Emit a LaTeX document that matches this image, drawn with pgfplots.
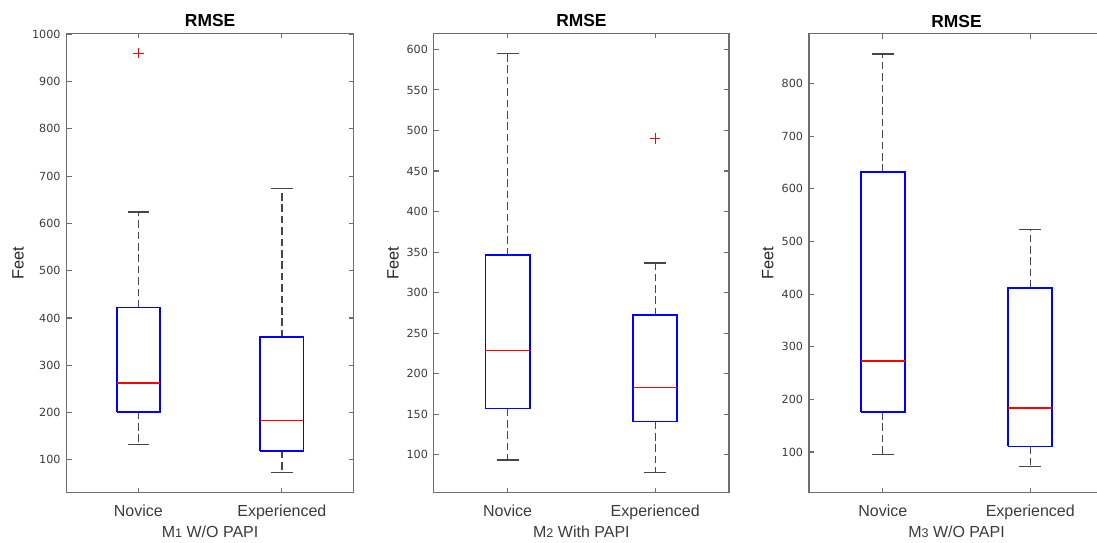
\documentclass[border=0pt]{standalone}
\usepackage{fontspec}
\setmainfont{Liberation Sans}
\newfontfamily\tickfont{DejaVu Sans}
\usepackage{pgfplots}
\pgfplotsset{compat=1.18}
\definecolor{framegray}{RGB}{110,110,110}
\definecolor{textgray}{RGB}{60,60,60}
\definecolor{whiskgray}{RGB}{70,70,70}
\definecolor{boxblue}{RGB}{0,0,255}
\definecolor{medred}{RGB}{255,0,0}
\pgfplotsset{
  rmse/.style={
    scale only axis, height=229.5pt, anchor=south west,
    xmin=0.5, xmax=2.5, xtick={1,2}, xticklabels={Novice,Experienced},
    axis line style={framegray, line width=0.6pt},
    tick style={framegray, line width=0.55pt},
    major tick length=2.5pt, tick align=inside,
    /pgf/number format/assume math mode=true,
    /pgf/number format/1000 sep={},
    yticklabel style={font=\tickfont\fontsize{5.6}{6.5}\selectfont, text=textgray, anchor=east, inner sep=0pt, xshift=-2.75pt},
    xticklabel style={font=\fontsize{8}{9}\selectfont, text=textgray, anchor=base, inner sep=0pt, yshift=-12.1pt},
    title style={font=\bfseries\fontsize{8.7}{10}\selectfont, at={(axis description cs:0.5,1)}, anchor=base, yshift=-2.75pt, inner sep=0pt},
    xlabel style={font=\fontsize{8}{9}\selectfont, text=textgray, at={(axis description cs:0.5,-0.0991)}, anchor=base, inner sep=0pt},
    ylabel style={font=\fontsize{8.2}{9}\selectfont, text=black!85},
    title={RMSE}, ylabel={Feet},
    clip=false,
  },
  boxl/.style={draw=boxblue, solid, line width=0.9pt, mark=none, line join=miter},
  med/.style={draw=medred, solid, line width=0.8pt, mark=none},
  whisk/.style={draw=whiskgray, line width=0.65pt, dash pattern=on 3.8pt off 1.9pt, mark=none},
  cap/.style={draw=whiskgray, solid, line width=0.65pt, mark=none},
  outl/.style={draw=medred, only marks, mark=+, mark size=2.6pt, mark options={draw=medred, solid, line width=0.6pt}},
}
\begin{document}
\begin{tikzpicture}
% Panel 1
\begin{axis}[rmse, at={(33.25pt,24.75pt)}, width=143.6pt,
  ymin=31, ymax=1001.5, ytick={100,200,...,1000},
  xlabel={M{\fontsize{6.3}{7}\selectfont 1} W/O PAPI},
  ylabel style={at={(axis description cs:-0.169,0.5)}, anchor=center}]
% Novice
\addplot[whisk] coordinates {(1,422) (1,624)};
\addplot[whisk] coordinates {(1,202) (1,132)};
\addplot[cap] coordinates {(0.925,624) (1.075,624)};
\addplot[cap] coordinates {(0.925,132) (1.075,132)};
\addplot[boxl] coordinates {(0.85,202) (1.15,202) (1.15,422) (0.85,422) (0.85,202)};
\addplot[med] coordinates {(0.85,262) (1.15,262)};
\addplot[outl] coordinates {(1,960)};
% Experienced
\addplot[whisk] coordinates {(2,359) (2,674)};
\addplot[whisk] coordinates {(2,119) (2,74)};
\addplot[cap] coordinates {(1.925,674) (2.075,674)};
\addplot[cap] coordinates {(1.925,74) (2.075,74)};
\addplot[boxl] coordinates {(1.85,119) (2.15,119) (2.15,359) (1.85,359) (1.85,119)};
\addplot[med] coordinates {(1.85,183.5) (2.15,183.5)};
\end{axis}
% Panel 2
\begin{axis}[rmse, at={(216.9pt,24.75pt)}, width=147.6pt,
  ymin=53.5, ymax=619.6, ytick={100,150,...,600},
  xlabel={M{\fontsize{6.3}{7}\selectfont 2} With PAPI},
  ylabel style={at={(axis description cs:-0.138,0.5)}, anchor=center}]
\addplot[whisk] coordinates {(1,346) (1,595)};
\addplot[whisk] coordinates {(1,157) (1,93.5)};
\addplot[cap] coordinates {(0.925,595) (1.075,595)};
\addplot[cap] coordinates {(0.925,93.5) (1.075,93.5)};
\addplot[boxl] coordinates {(0.85,157) (1.15,157) (1.15,346) (0.85,346) (0.85,157)};
\addplot[med] coordinates {(0.85,228.5) (1.15,228.5)};
\addplot[whisk] coordinates {(2,272) (2,336.5)};
\addplot[whisk] coordinates {(2,141) (2,78)};
\addplot[cap] coordinates {(1.925,336.5) (2.075,336.5)};
\addplot[cap] coordinates {(1.925,78) (2.075,78)};
\addplot[boxl] coordinates {(1.85,141) (2.15,141) (2.15,272) (1.85,272) (1.85,141)};
\addplot[med] coordinates {(1.85,183) (2.15,183)};
\addplot[outl] coordinates {(2,490)};
\end{axis}
% Panel 3
\begin{axis}[rmse, at={(404.5pt,24.75pt)}, width=147.5pt,
  ymin=23, ymax=895, ytick={100,200,...,800},
  xlabel={M{\fontsize{6.3}{7}\selectfont 3} W/O PAPI},
  ylabel style={at={(axis description cs:-0.140,0.5)}, anchor=center}]
\addplot[whisk] coordinates {(1,632) (1,856)};
\addplot[whisk] coordinates {(1,176) (1,95)};
\addplot[cap] coordinates {(0.925,856) (1.075,856)};
\addplot[cap] coordinates {(0.925,95) (1.075,95)};
\addplot[boxl] coordinates {(0.85,176) (1.15,176) (1.15,632) (0.85,632) (0.85,176)};
\addplot[med] coordinates {(0.85,273) (1.15,273)};
\addplot[whisk] coordinates {(2,412) (2,522)};
\addplot[whisk] coordinates {(2,110.5) (2,72)};
\addplot[cap] coordinates {(1.925,522) (2.075,522)};
\addplot[cap] coordinates {(1.925,72) (2.075,72)};
\addplot[boxl] coordinates {(1.85,110.5) (2.15,110.5) (2.15,412) (1.85,412) (1.85,110.5)};
\addplot[med] coordinates {(1.85,183) (2.15,183)};
\end{axis}
\pgfresetboundingbox
\path[use as bounding box] (0,0) rectangle (548.5pt,271pt);
\end{tikzpicture}
\end{document}
